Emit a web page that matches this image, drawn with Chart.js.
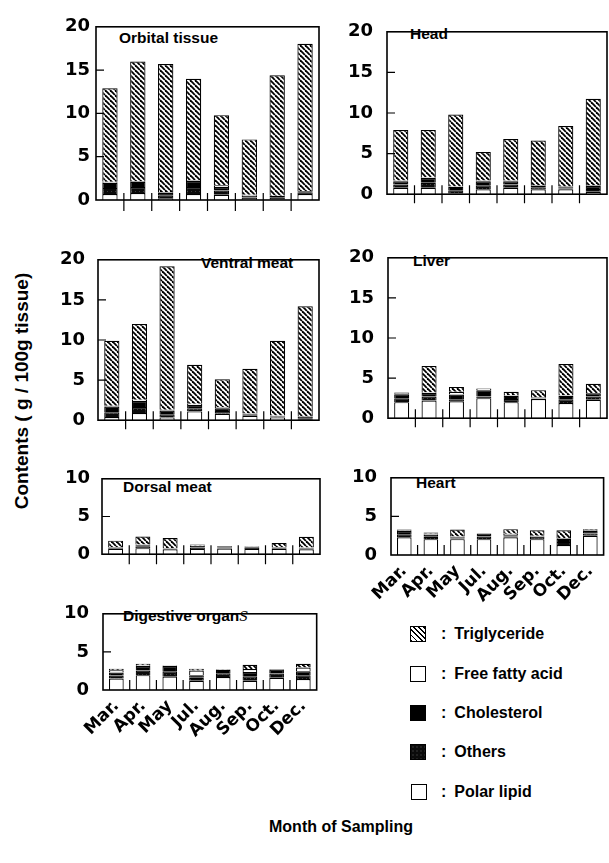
<!DOCTYPE html>
<html>
<head>
<meta charset="utf-8">
<script src="https://cdn.jsdelivr.net/npm/chart.js@4.4.1/dist/chart.umd.min.js"></script>
<style>
  body { margin: 0; background: #fff; width: 609px; height: 863px; position: relative; overflow: hidden;
         font-family: "Liberation Sans", Arial, sans-serif; font-weight: bold; color: #000; }
  canvas { position: absolute; }
  .ttl { position: absolute; font-size: 15.5px; line-height: 15px; white-space: nowrap; }
  .leg { position: absolute; font-size: 16px; line-height: 16px; white-space: nowrap; }
  .box { position: absolute; width: 14px; height: 14px; border: 1px solid #000; background: #fff; }
</style>
</head>
<body>

<div class="ttl" style="left:119px; top:30px;">Orbital tissue</div>
<div class="ttl" style="left:410px; top:26px;">Head</div>
<div class="ttl" style="left:201px; top:255px;">Ventral meat</div>
<div class="ttl" style="left:413px; top:253px;">Liver</div>
<div class="ttl" style="left:123px; top:479px;">Dorsal meat</div>
<div class="ttl" style="left:416px; top:475px;">Heart</div>
<div class="ttl" style="left:123px; top:608px;">Digestive organ<span style="font-weight:normal;font-style:italic;font-family:'DejaVu Serif',serif;font-size:13px;">S</span></div>

<div class="box" style="left:410px; top:626px; background:repeating-linear-gradient(45deg,#000 0 1.3px,#fff 1.3px 3.6px);"></div>
<div class="leg" style="left:441px; top:626px;">:<span style="margin-left:8px">Triglyceride</span></div>
<div class="box" style="left:410px; top:666px;"></div>
<div class="leg" style="left:441px; top:666px;">:<span style="margin-left:8px">Free fatty acid</span></div>
<div class="box" style="left:410px; top:705px; background:#000;"></div>
<div class="leg" style="left:441px; top:705px;">:<span style="margin-left:8px">Cholesterol</span></div>
<div class="box" style="left:410px; top:744px; background:#0b0b0b; background-image:radial-gradient(#3a3a3a 0.6px, transparent 0.8px); background-size:4px 4px;"></div>
<div class="leg" style="left:441px; top:744px;">:<span style="margin-left:8px">Others</span></div>
<div class="box" style="left:411px; top:784px;"></div>
<div class="leg" style="left:441px; top:784px;">:<span style="margin-left:8px">Polar lipid</span></div>

<div style="position:absolute; left:22px; top:391px; transform:translate(-50%,-50%) rotate(-90deg); font-size:19px; white-space:nowrap;">Contents ( g / 100g tissue)</div>
<div style="position:absolute; left:341px; top:818px; transform:translateX(-50%); font-size:16px; white-space:nowrap;">Month of Sampling</div>

<script>
// months sampled
const months = ['Mar.', 'Apr.', 'May', 'Jul.', 'Aug.', 'Sep.', 'Oct.', 'Dec.'];

// Orbital tissue (g / 100g)
const orbitalPolar  = [0.7, 0.8, 0.2, 0.7, 0.6, 0.1, 0.05, 0.7];
const orbitalOthers = [0.7, 0.7, 0.3, 0.8, 0.5, 0.2, 0.2, 0.15];
const orbitalChol   = [0.6, 0.6, 0.3, 0.7, 0.4, 0.2, 0.2, 0.15];
const orbitalFFA    = [0.1, 0.1, 0.1, 0.1, 0.2, 0.1, 0.05, 0.05];
const orbitalTG     = [10.8, 13.8, 14.8, 11.7, 8.1, 6.4, 13.9, 17.0];

// Head
const headPolar  = [0.8, 0.8, 0.1, 0.6, 0.8, 0.6, 0.6, 0.3];
const headOthers = [0.4, 0.6, 0.4, 0.5, 0.4, 0.2, 0.1, 0.35];
const headChol   = [0.4, 0.6, 0.4, 0.5, 0.4, 0.2, 0.15, 0.35];
const headFFA    = [0.1, 0.1, 0.05, 0.1, 0.1, 0.1, 0.1, 0.1];
const headTG     = [6.2, 5.8, 8.85, 3.5, 5.1, 5.5, 7.45, 10.65];

// Ventral meat
const ventralPolar  = [0.4, 0.9, 0.35, 1.1, 0.8, 0.55, 0.35, 0.05];
const ventralOthers = [0.6, 0.75, 0.4, 0.4, 0.35, 0.1, 0.1, 0.2];
const ventralChol   = [0.7, 0.75, 0.45, 0.4, 0.35, 0.1, 0.1, 0.2];
const ventralFFA    = [0.1, 0.15, 0.1, 0.15, 0.15, 0.08, 0.05, 0.0];
const ventralTG     = [8.1, 9.45, 17.9, 4.85, 3.45, 5.57, 9.3, 13.75];

// Liver
const liverPolar  = [2.0, 2.2, 2.1, 2.5, 2.0, 2.4, 1.9, 2.3];
const liverOthers = [0.5, 0.5, 0.25, 0.2, 0.4, 0.05, 0.45, 0.4];
const liverChol   = [0.5, 0.45, 0.6, 0.8, 0.4, 0.05, 0.45, 0.4];
const liverFFA    = [0.1, 0.1, 0.35, 0.2, 0.1, 0.1, 0.05, 0.05];
const liverTG     = [0.1, 3.25, 0.6, 0.0, 0.4, 0.9, 3.9, 1.15];

// Dorsal meat
const dorsalPolar  = [0.7, 0.8, 0.65, 0.7, 0.75, 0.7, 0.7, 0.65];
const dorsalOthers = [0.1, 0.2, 0.05, 0.2, 0.15, 0.15, 0.1, 0.1];
const dorsalChol   = [0.1, 0.2, 0.05, 0.2, 0.15, 0.15, 0.1, 0.1];
const dorsalFFA    = [0.05, 0.1, 0.05, 0.05, 0.05, 0.05, 0.05, 0.05];
const dorsalTG     = [0.85, 1.05, 1.35, 0.15, 0.0, 0.05, 0.55, 1.4];

// Heart
const heartPolar  = [2.3, 2.05, 2.05, 2.05, 2.3, 2.05, 1.3, 2.5];
const heartOthers = [0.4, 0.3, 0.1, 0.35, 0.1, 0.15, 0.4, 0.3];
const heartChol   = [0.4, 0.3, 0.15, 0.4, 0.15, 0.2, 0.4, 0.3];
const heartFFA    = [0.1, 0.15, 0.1, 0.0, 0.2, 0.1, 0.1, 0.1];
const heartTG     = [0.1, 0.1, 0.9, 0.0, 0.6, 0.7, 1.0, 0.15];

// Digestive organs
const digestPolar  = [1.5, 1.95, 1.75, 1.2, 1.7, 1.2, 1.6, 1.45];
const digestOthers = [0.4, 0.6, 0.7, 0.4, 0.5, 0.6, 0.55, 0.5];
const digestChol   = [0.4, 0.6, 0.7, 0.35, 0.45, 0.55, 0.55, 0.5];
const digestFFA    = [0.3, 0.1, 0.05, 0.6, 0.05, 0.4, 0.05, 0.5];
const digestTG     = [0.2, 0.2, 0.0, 0.25, 0.05, 0.55, 0.0, 0.5];

const yTicks20 = [0, 5, 10, 15, 20];
const yTicks10 = [0, 5, 10];

// fill patterns
function hatch() {
  const s = 5, c = document.createElement('canvas');
  c.width = s; c.height = s;
  const g = c.getContext('2d');
  g.fillStyle = '#fff'; g.fillRect(0, 0, s, s);
  g.strokeStyle = '#000'; g.lineWidth = 1.8;
  for (const k of [-s, 0, s]) { g.beginPath(); g.moveTo(k, 0); g.lineTo(k + s, s); g.stroke(); }
  return g.createPattern(c, 'repeat');
}
function speckle() {
  const c = document.createElement('canvas');
  c.width = 4; c.height = 4;
  const g = c.getContext('2d');
  g.fillStyle = '#0b0b0b'; g.fillRect(0, 0, 4, 4);
  g.fillStyle = '#3c3c3c'; g.fillRect(1, 1, 1, 1);
  return g.createPattern(c, 'repeat');
}
const tgFill = hatch(), othersFill = speckle();

// frame, inner y ticks, and month boundary ticks
const framePlugin = {
  id: 'frame',
  afterDraw(chart, args, o) {
    const {ctx, chartArea: a, scales: {x, y}} = chart;
    ctx.save();
    ctx.strokeStyle = '#000';
    ctx.lineWidth = 1.6;
    ctx.strokeRect(a.left, a.top, a.right - a.left, a.bottom - a.top);
    ctx.lineWidth = 1.2;
    ctx.beginPath();
    y.ticks.forEach(t => {
      if (t.value > y.min && t.value < y.max) {
        const py = y.getPixelForValue(t.value);
        ctx.moveTo(a.left, py); ctx.lineTo(a.left + 8, py);
      }
    });
    for (let i = 1; i < months.length; i++) {
      const px = (x.getPixelForValue(i - 1) + x.getPixelForValue(i)) / 2;
      ctx.moveTo(px, a.bottom - o.up); ctx.lineTo(px, a.bottom + o.down);
    }
    ctx.stroke();
    ctx.restore();
  }
};

function panel(area, yMax, yTicks, yPad, series, showMonths, tickUp, tickDown) {
  const yw = 46, top = 12, xh = showMonths ? 72 : 20;
  const cv = document.createElement('canvas');
  cv.width = area.right - area.left + yw + 4;
  cv.height = area.bottom - area.top + top + xh;
  cv.style.left = (area.left - yw) + 'px';
  cv.style.top = (area.top - top) + 'px';
  document.body.appendChild(cv);

  const names = ['Polar lipid', 'Others', 'Cholesterol', 'Free fatty acid', 'Triglyceride'];
  const fills = ['#fff', othersFill, '#000', '#fff', tgFill];

  new Chart(cv, {
    type: 'bar',
    data: {
      labels: months,
      datasets: series.map((d, i) => ({
        label: names[i],
        data: d,
        backgroundColor: fills[i],
        borderColor: '#000',
        borderWidth: 1.2,
        borderSkipped: 'start',
        barPercentage: 0.55,
        categoryPercentage: 1.0
      }))
    },
    options: {
      responsive: false,
      animation: false,
      devicePixelRatio: 1,
      layout: { padding: { top: top, right: 4, left: 0, bottom: 0 } },
      plugins: { legend: { display: false }, tooltip: { enabled: false }, frame: { up: tickUp, down: tickDown } },
      scales: {
        x: {
          stacked: true,
          offset: true,
          grid: { display: false, drawTicks: false },
          border: { display: false },
          ticks: {
            display: showMonths,
            autoSkip: false,
            minRotation: 45, maxRotation: 45,
            padding: 6,
            color: '#000',
            font: { family: 'DejaVu Sans', weight: 'bold', size: 17 }
          },
          afterFit: s => { s.height = xh; }
        },
        y: {
          stacked: true,
          min: 0, max: yMax,
          grid: { display: false, drawTicks: false },
          border: { display: false },
          afterBuildTicks: s => { s.ticks = yTicks.map(v => ({ value: v })); },
          ticks: {
            padding: yPad,
            color: '#000',
            font: { family: 'DejaVu Sans', weight: 'bold', size: 18 }
          },
          afterFit: s => { s.width = yw; }
        }
      }
    },
    plugins: [framePlugin]
  });
}

panel({left: 96, right: 319, top: 22, bottom: 200}, 20, yTicks20, 6,
  [orbitalPolar, orbitalOthers, orbitalChol, orbitalFFA, orbitalTG], false, 7, 11);
panel({left: 387, right: 607, top: 19, bottom: 199}, 20, yTicks20, 14,
  [headPolar, headOthers, headChol, headFFA, headTG], false, 9, 9);
panel({left: 98, right: 319, top: 248, bottom: 424}, 20, yTicks20, 13,
  [ventralPolar, ventralOthers, ventralChol, ventralFFA, ventralTG], false, 9, 9);
panel({left: 388, right: 607, top: 245, bottom: 423}, 20, yTicks20, 14,
  [liverPolar, liverOthers, liverChol, liverFFA, liverTG], false, 9, 9);
panel({left: 102, right: 320, top: 468, bottom: 557}, 10, yTicks10, 12,
  [dorsalPolar, dorsalOthers, dorsalChol, dorsalFFA, dorsalTG], false, 9, 10);
panel({left: 391, right: 607, top: 465, bottom: 555}, 10, yTicks10, 14,
  [heartPolar, heartOthers, heartChol, heartFFA, heartTG], true, 10, 0);
panel({left: 103, right: 320, top: 601, bottom: 690}, 10, yTicks10, 14,
  [digestPolar, digestOthers, digestChol, digestFFA, digestTG], true, 10, 0);
</script>
</body>
</html>
